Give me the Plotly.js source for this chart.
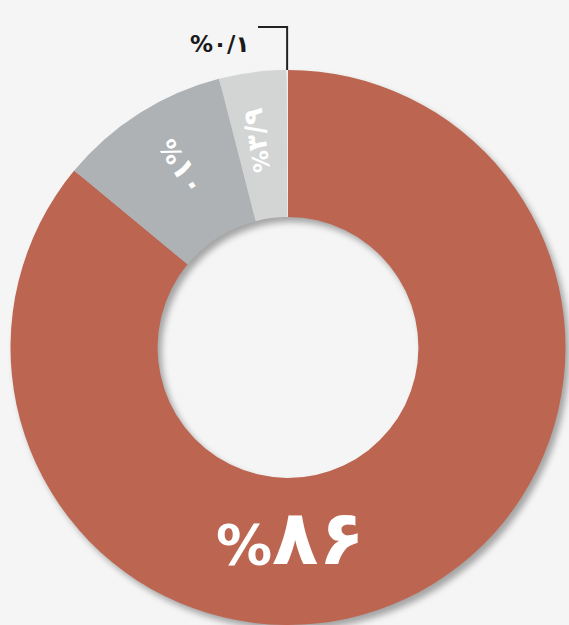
<!DOCTYPE html>
<html><head><meta charset="utf-8">
<script src="https://cdn.plot.ly/plotly-3.0.1.min.js"></script>
<style>
html,body{margin:0;padding:0;background:#f5f5f5;}
#chart{width:569px;height:625px;}
.pielayer .trace{filter:drop-shadow(4px 5px 3px rgba(0,0,0,0.33));}
</style></head><body><div id="chart"></div>
<script>
// data
const categories = ['بخش ۱', 'بخش ۲', 'بخش ۳', 'بخش ۴'];
const values = [86, 10, 3.9, 0.1];
const valueLabels = ['%۸۶', '%۱۰', '%۳/۹', '%۰/۱'];
const colors = ['#BC6651', '#AEB2B4', '#D3D5D4', '#EEEEEE'];

const W = 569, H = 625;
const cx = 288, cy = 348, R = 278, holeFrac = 0.47;
const px = x => x / W, py = y => 1 - y / H;

const total = values.reduce((a, b) => a + b, 0);
let cum = 0;
const mids = values.map(v => { const m = (cum + v / 2) / total * 2 * Math.PI; cum += v; return m; });

const trace = {
  type: 'pie', values: values, labels: categories, sort: false,
  direction: 'clockwise', rotation: 0, hole: holeFrac,
  marker: {colors: colors, line: {width: 0}},
  textinfo: 'none', textposition: 'none',
  domain: {x: [px(cx - R), px(cx + R)], y: [0, py(cy - R)]},
  showlegend: false, hoverinfo: 'none'
};

const pct = (s, sz) => '<span style="font-size:' + sz + 'px">' + s.charAt(0) + '</span>' + s.slice(1);

// radial labels for the two grey slices
function radialLabel(i, inward, size, rLab) {
  const th = mids[i];
  const deg = th * 180 / Math.PI;
  return {
    x: px(cx + rLab * Math.sin(th)), y: py(cy - rLab * Math.cos(th)),
    xref: 'paper', yref: 'paper', showarrow: false,
    text: pct(valueLabels[i], Math.round(size * 0.8)),
    textangle: inward ? deg + 90 - 360 : deg - 90 - 360,
    font: {family: 'DejaVu Sans', size: size, color: '#ffffff', weight: 'bold'}
  };
}

// tiny slice leader
const tAng = mids[3];
const tx = cx + R * Math.sin(tAng);
const tyTop = cy - R;
const lineY = 27, lineLeft = 258;

const layout = {
  width: W, height: H,
  margin: {l: 0, r: 0, t: 0, b: 0},
  paper_bgcolor: '#f5f5f5', plot_bgcolor: '#f5f5f5',
  showlegend: false,
  shapes: [{
    type: 'path', xref: 'paper', yref: 'paper',
    path: `M ${px(lineLeft)},${py(lineY)} L ${px(tx)},${py(lineY)} L ${px(tx)},${py(tyTop)}`,
    line: {color: '#222222', width: 2}
  }],
  annotations: [
    {x: px(cx + 2), y: py(cy + R * (1 + holeFrac) / 2 + 32), xref: 'paper', yref: 'paper',
     text: pct(valueLabels[0], 56), showarrow: false,
     font: {family: 'DejaVu Sans', size: 76, color: '#ffffff', weight: 'bold'}},
    radialLabel(1, true, 30, 260),
    radialLabel(2, false, 27, 246),
    {x: px(lineLeft - 6), y: py(lineY + 2), xref: 'paper', yref: 'paper', xanchor: 'right',
     text: valueLabels[3], showarrow: false,
     font: {family: 'DejaVu Sans', size: 23, color: '#1a1a1a', weight: 'bold'}}
  ]
};

Plotly.newPlot('chart', [trace], layout, {displayModeBar: false, staticPlot: true});
</script></body></html>
